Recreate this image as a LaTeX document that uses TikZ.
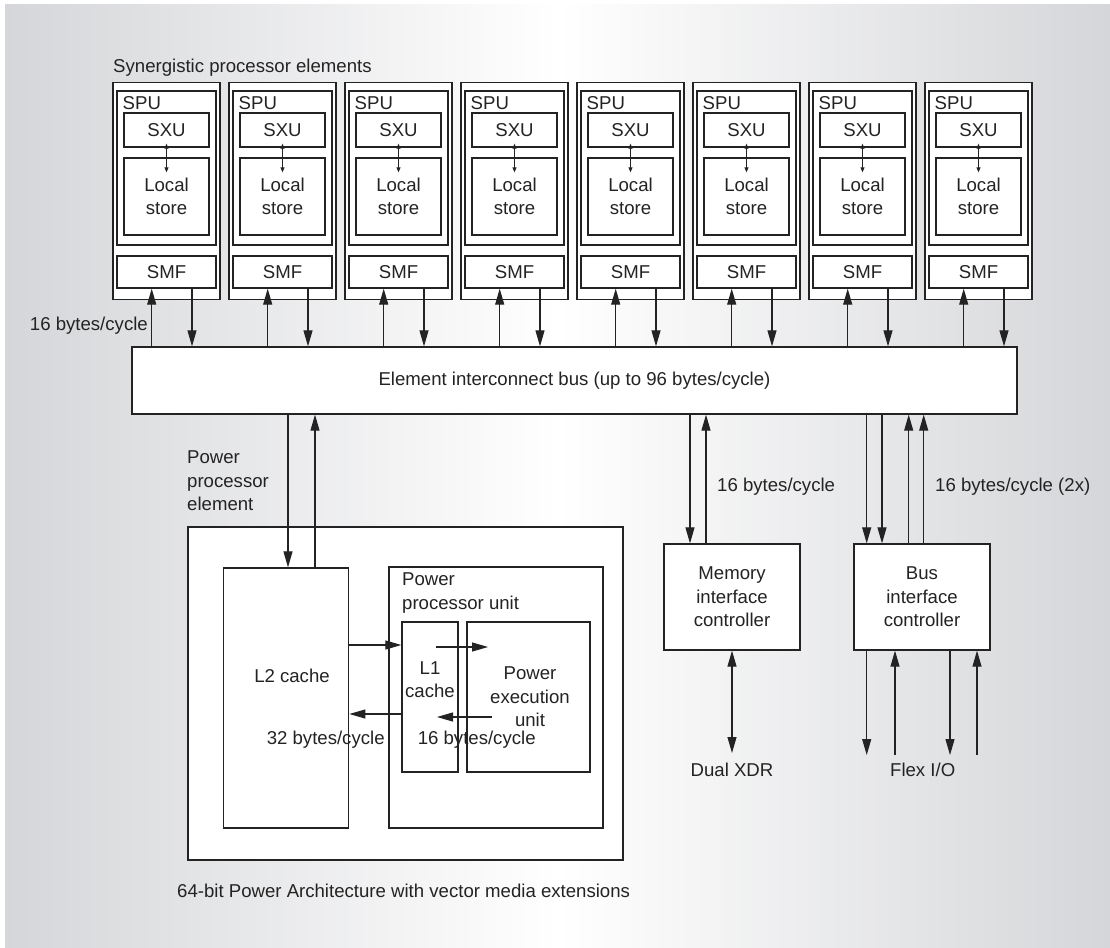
\documentclass[tikz,border=0pt]{standalone}
\usepackage{fontspec}
\setmainfont{Liberation Sans}
\usetikzlibrary{arrows.meta,positioning}

\definecolor{bgside}{RGB}{213,214,217}
\definecolor{ink}{RGB}{35,35,35}

\tikzset{
  box/.style={draw=ink, fill=white, line width=1.3pt, inner sep=0pt, align=center, text=ink},
  lbl/.style={inner sep=0pt, align=center, text=ink},
  arr/.style={draw=ink, line width=1.1pt, -{Triangle[length=16pt,width=9pt]}},
  darr/.style={draw=ink, line width=1.1pt, {Triangle[length=16pt,width=9pt]}-{Triangle[length=16pt,width=9pt]}},
  tarr/.style={draw=ink, line width=0.8pt, {Triangle[length=5pt,width=4pt]}-{Triangle[length=5pt,width=4pt]}}
}

\begin{document}
\begin{tikzpicture}[x=1pt, y=-1pt, font=\fontsize{18.6}{23.5}\selectfont]
\useasboundingbox (0,0) rectangle (1110,947);

% Background
\fill[white] (0,0) rectangle (1110,947);
\shade[left color=bgside, right color=bgside, middle color=white] (5,5) rectangle (1110,947);

% Synergistic processor elements
\node[lbl, anchor=west] (spetitle) at (113,67.7) {Synergistic processor elements};

\foreach \i [evaluate=\i as \xc using 166.5+116*\i] in {0,...,7}{
  \node[box, minimum width=107pt, minimum height=217pt] (spe\i) at (\xc,191.3) {};
  \node[box, minimum width=99pt, minimum height=154pt] (spu\i) at (\xc,168) {};
  \node[lbl, anchor=west] (spul\i) at (\xc-44,103) {SPU};
  \node[box, minimum width=85pt, minimum height=34pt] (sxu\i) at (\xc,130) {SXU};
  \node[box, minimum width=85pt, minimum height=77pt] (ls\i) at (\xc,196.5) {Local\\store};
  \node[box, minimum width=99pt, minimum height=32pt] (smf\i) at (\xc,272) {SMF};
  % SXU <-> local store
  \draw[tarr] ([yshift=4pt]sxu\i.south) -- ([yshift=-15pt]ls\i.north);
  % SMF <-> bus
  \coordinate (smfup\i) at ([xshift=-14.8pt]smf\i.south);
  \coordinate (smfdn\i) at ([xshift=25.5pt]smf\i.south);
}

% Element interconnect bus
\node[box, minimum width=885pt, minimum height=67pt] (bus) at (574.5,380.5) {Element interconnect bus (up to 96 bytes/cycle)};
\node[lbl, anchor=east] (spebw) at (148,326) {16 bytes/cycle};

\foreach \i in {0,...,7}{
  \draw[arr] (smfup\i |- bus.north) -- (smfup\i);
  \draw[arr] (smfdn\i) -- (smfdn\i |- bus.north);
}

% Power processor element
\node[lbl, anchor=west, align=left] (ppel) at (187,481) {Power\\processor\\element};
\node[box, minimum width=435pt, minimum height=333pt] (ppe) at (405.5,693.5) {};
\node[box, minimum width=125pt, minimum height=260pt] (l2) at (286.2,698) {};
\node[box, minimum width=214pt, minimum height=261pt] (ppu) at (496,697.5) {};
\node[box, minimum width=56pt, minimum height=150pt] (l1) at (430,697) {};
\node[box, minimum width=123pt, minimum height=150pt] (pxu) at (528.5,697) {};

\node[lbl] (l2l) at (292,676) {L2 cache};
\node[lbl, anchor=west, align=left] (ppul) at (402,593) {Power\\processor unit};
\node[lbl] (l1l) at (430,679.5) {L1\\cache};
\node[lbl] (pxul) at (530,697) {Power\\execution\\unit};
\node[lbl] (l2bw) at (325.7,740) {32 bytes/cycle};
\node[lbl] (l1bw) at (476.7,740) {16 bytes/cycle};

% bus <-> L2
\coordinate (l2in) at ([xshift=1.8pt]l2.north);
\coordinate (l2out) at ([xshift=28.8pt]l2.north);
\draw[arr] (l2in |- bus.south) -- (l2in);
\draw[arr] (l2out) -- (l2out |- bus.south);

% L2 <-> L1 <-> execution unit
\coordinate (l2a) at ([yshift=53pt]l2.east);
\coordinate (l2b) at ([yshift=-16pt]l2.east);
\draw[arr] (l2a) -- (l2a -| l1.west);
\draw[arr] (l2b -| l1.west) -- (l2b);
\coordinate (l1a) at (436,647);
\coordinate (pxua) at (488,647);
\coordinate (pxub) at (492,717);
\coordinate (l1b) at (437,717);
\draw[arr] (l1a) -- (pxua);
\draw[arr] (pxub) -- (l1b);

% Memory and bus interface controllers
\node[box, minimum width=136pt, minimum height=106pt] (mic) at (732,597) {Memory\\interface\\controller};
\node[box, minimum width=136pt, minimum height=106pt] (bic) at (922,597) {Bus\\interface\\controller};
\node[lbl, anchor=west] (micbw) at (717,487) {16 bytes/cycle};
\node[lbl, anchor=west] (bicbw) at (935,487) {16 bytes/cycle (2x)};

\coordinate (micin) at ([xshift=-42pt]mic.north);
\coordinate (micout) at ([xshift=-26pt]mic.north);
\draw[arr] (micin |- bus.south) -- (micin);
\draw[arr] (micout) -- (micout |- bus.south);

\coordinate (bicin1) at ([xshift=-55.3pt]bic.north);
\coordinate (bicin2) at ([xshift=-40pt]bic.north);
\coordinate (bicout1) at ([xshift=-13.3pt]bic.north);
\coordinate (bicout2) at ([xshift=1.7pt]bic.north);
\draw[arr] (bicin1 |- bus.south) -- (bicin1);
\draw[arr] (bicin2 |- bus.south) -- (bicin2);
\draw[arr] (bicout1) -- (bicout1 |- bus.south);
\draw[arr] (bicout2) -- (bicout2 |- bus.south);

% Dual XDR
\coordinate (xdr) at (732,753);
\draw[darr] (mic.south) -- (xdr);
\node[lbl] (xdrl) at (732,770) {Dual XDR};

% Flex I/O
\coordinate (fiobot) at (922,755);
\coordinate (fio1) at ([xshift=-55.3pt]bic.south);
\coordinate (fio2) at ([xshift=-27pt]bic.south);
\coordinate (fio3) at ([xshift=28pt]bic.south);
\coordinate (fio4) at ([xshift=55pt]bic.south);
\draw[arr] (fio1) -- (fio1 |- fiobot);
\draw[arr] (fio2 |- fiobot) -- (fio2);
\draw[arr] (fio3) -- (fio3 |- fiobot);
\draw[arr] (fio4 |- fiobot) -- (fio4);
\node[lbl] (fiol) at (922.7,770) {Flex I/O};

% Caption
\node[lbl, anchor=west] (archl) at (177,890.7) {64-bit Power Architecture with vector media extensions};

\end{tikzpicture}
\end{document}
